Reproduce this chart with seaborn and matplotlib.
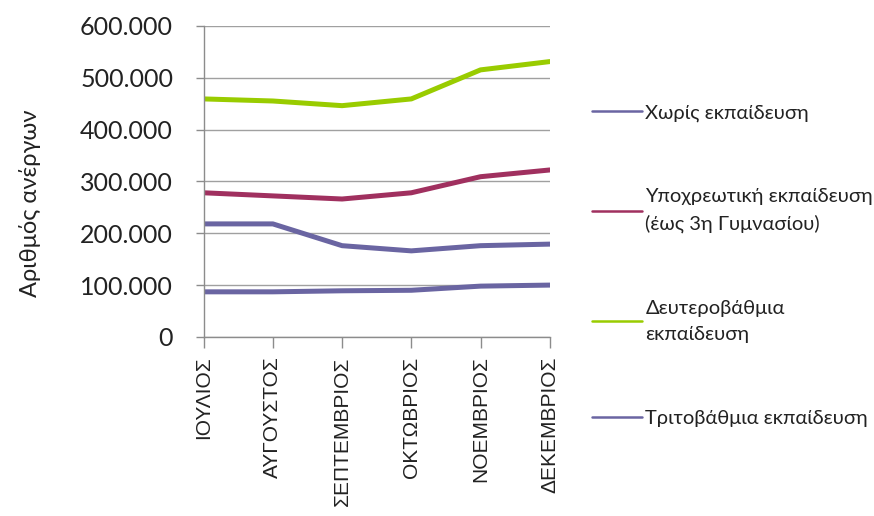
"""Unemployed persons by education level, July-December."""

import pandas as pd
import matplotlib
matplotlib.use('Agg')
import matplotlib.pyplot as plt
from matplotlib.ticker import FuncFormatter, MultipleLocator
import seaborn as sns

months = ['ΙΟΥΛΙΟΣ', 'ΑΥΓΟΥΣΤΟΣ', 'ΣΕΠΤΕΜΒΡΙΟΣ', 'ΟΚΤΩΒΡΙΟΣ', 'ΝΟΕΜΒΡΙΟΣ', 'ΔΕΚΕΜΒΡΙΟΣ']
series_names = [
    'Χωρίς εκπαίδευση',
    'Υποχρεωτική εκπαίδευση\n(έως 3η Γυμνασίου)',
    'Δευτεροβάθμια\nεκπαίδευση',
    'Τριτοβάθμια εκπαίδευση',
]
no_education = [87000, 87000, 89000, 90000, 98000, 100000]
compulsory = [278000, 272000, 266000, 278000, 309000, 322000]
secondary = [459000, 455000, 446000, 459000, 515000, 531000]
tertiary = [218000, 218000, 176000, 166000, 176000, 179000]
colors = ['#6A65A2', '#A0305F', '#99CC00', '#6A65A2']

df = pd.DataFrame({
    'month': months * 4,
    'pos': list(range(len(months))) * 4,
    'series': sum([[s] * len(months) for s in series_names], []),
    'value': no_education + compulsory + secondary + tertiary,
})

sns.set_style('white')
plt.rcParams['font.family'] = ['Lato', 'DejaVu Sans']

fig = plt.figure(figsize=(8.74, 5.16), dpi=100)
ax = fig.add_axes([0.233, 0.347, 0.396, 0.603])

sns.lineplot(data=df, x='pos', y='value', hue='series', hue_order=series_names,
             palette=colors, linewidth=3.6, ax=ax, legend=True)

ax.set_xlim(0, len(months) - 1)
ax.set_ylim(0, 600000)
ax.yaxis.set_major_locator(MultipleLocator(100000))
ax.yaxis.set_major_formatter(FuncFormatter(lambda v, p: f'{int(v):,}'.replace(',', '.')))
ax.set_xticks(range(len(months)))
ax.set_xticklabels(months, rotation=90, fontsize=15, family='Liberation Sans', color='#222222')
ax.tick_params(axis='y', labelsize=18, colors='#222222', length=6, width=1, color='#8c8c8c', direction='out', left=True, pad=16)
ax.tick_params(axis='x', length=8, width=1, color='#8c8c8c', direction='out', bottom=True, pad=6)

ax.grid(axis='y', color='#a0a0a0', linewidth=1)
ax.set_axisbelow(True)
for s in ['top', 'right']:
    ax.spines[s].set_visible(False)
for s in ['left', 'bottom']:
    ax.spines[s].set_color('#8c8c8c')
    ax.spines[s].set_linewidth(1)

ax.set_xlabel('')
ax.set_ylabel('Αριθμός ανέργων', fontsize=17, color='#222222')
ax.yaxis.set_label_coords(-0.47, 0.43)

leg = ax.legend(loc='center left', bbox_to_anchor=(1.07, 0.23), frameon=False,
                fontsize=14.5, labelspacing=3.3, handlelength=2.5, handletextpad=0.15)
for line in leg.get_lines():
    line.set_linewidth(1.8)
for t in leg.get_texts():
    t.set_linespacing(1.65)
    t.set_color('#222222')

fig.savefig('out.png', dpi=100)
